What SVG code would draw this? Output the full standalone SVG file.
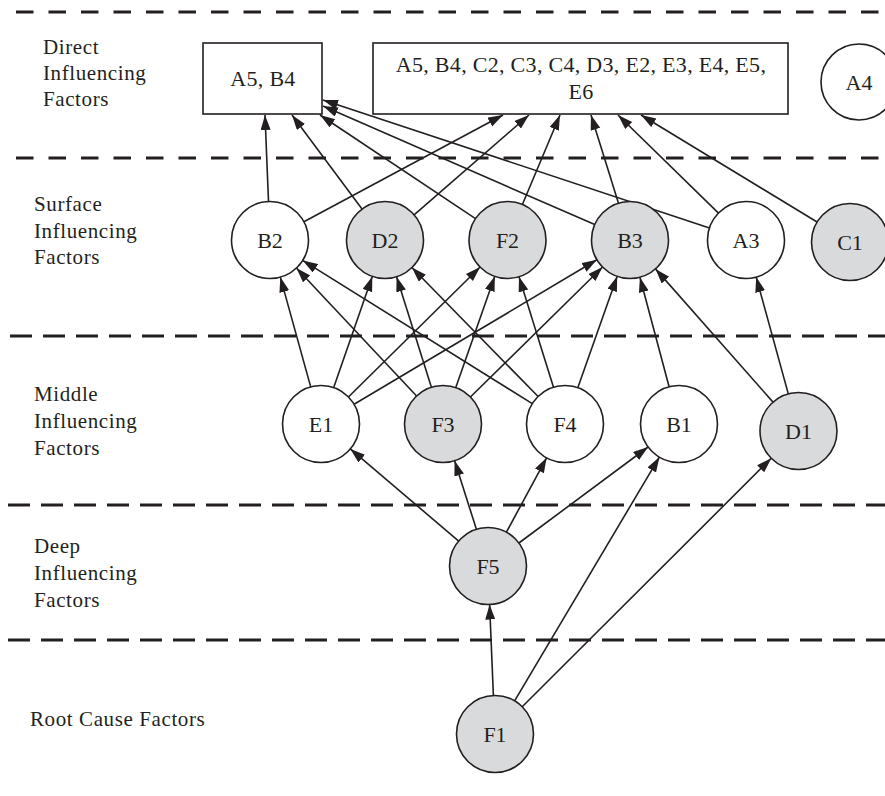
<svg xmlns="http://www.w3.org/2000/svg" width="885" height="796" viewBox="0 0 885 796">
<defs>
<marker id="ah" markerUnits="userSpaceOnUse" markerWidth="16" markerHeight="11" refX="15" refY="5" orient="auto">
<path d="M0,0 L15,5 L0,10 z" fill="#231f20"/>
</marker>
<style>
.sep{stroke:#231f20;stroke-width:3;fill:none}
.top{stroke-dasharray:17.5 15}
.low{stroke-dasharray:22 11}
.lbl{font-family:"Liberation Serif","Times New Roman",serif;font-size:21px;letter-spacing:0.6px;fill:#231f20}
.nt{font-family:"Liberation Serif","Times New Roman",serif;font-size:22px;fill:#231f20;text-anchor:middle}
.bt{font-family:"Liberation Serif","Times New Roman",serif;font-size:22px;letter-spacing:0.3px;fill:#231f20;text-anchor:middle}
.w{fill:#ffffff;stroke:#231f20;stroke-width:1.6}
.g{fill:#d9dadc;stroke:#231f20;stroke-width:1.6}
.e{stroke:#231f20;stroke-width:1.6;fill:none;marker-end:url(#ah)}
</style>
</defs>
<rect width="885" height="796" fill="#ffffff"/>
<g id="separators">
<line class="sep top" x1="16" y1="12" x2="885" y2="12"/>
<line class="sep top" x1="16" y1="158" x2="885" y2="158"/>
<line class="sep low" x1="10" y1="336" x2="885" y2="336"/>
<line class="sep low" x1="8" y1="505" x2="885" y2="505"/>
<line class="sep low" x1="8" y1="640" x2="885" y2="640"/>
</g>
<g id="layer-labels">
<text class="lbl" x="43" y="54">Direct</text>
<text class="lbl" x="43" y="80">Influencing</text>
<text class="lbl" x="43" y="106">Factors</text>
<text class="lbl" x="34" y="211">Surface</text>
<text class="lbl" x="34" y="238">Influencing</text>
<text class="lbl" x="34" y="264">Factors</text>
<text class="lbl" x="34" y="401">Middle</text>
<text class="lbl" x="34" y="428">Influencing</text>
<text class="lbl" x="34" y="455">Factors</text>
<text class="lbl" x="34" y="553">Deep</text>
<text class="lbl" x="34" y="580">Influencing</text>
<text class="lbl" x="34" y="607">Factors</text>
<text class="lbl" x="30" y="726">Root Cause Factors</text>
</g>
<g id="connectors">
<line class="e" x1="268.5" y1="201.5" x2="265" y2="115"/>
<line class="e" x1="362" y1="209.1" x2="292" y2="115"/>
<line class="e" x1="475.5" y1="218.6" x2="320" y2="115"/>
<line class="e" x1="594.7" y1="224.6" x2="323" y2="106"/>
<line class="e" x1="709.5" y1="227.9" x2="323" y2="100"/>
<line class="e" x1="303.9" y1="221.8" x2="503" y2="115"/>
<line class="e" x1="414.1" y1="214.8" x2="529" y2="115"/>
<line class="e" x1="522.4" y1="204.5" x2="560" y2="115"/>
<line class="e" x1="618.5" y1="203.2" x2="591" y2="115"/>
<line class="e" x1="718.5" y1="213.1" x2="618" y2="115"/>
<line class="e" x1="817.1" y1="222" x2="641" y2="115"/>
<line class="e" x1="310.7" y1="386.9" x2="280.3" y2="277.1"/>
<line class="e" x1="333.7" y1="387.6" x2="372.3" y2="276.4"/>
<line class="e" x1="348.4" y1="397" x2="480.1" y2="267"/>
<line class="e" x1="354.1" y1="404.3" x2="596.9" y2="259.7"/>
<line class="e" x1="416.6" y1="396" x2="296.4" y2="268"/>
<line class="e" x1="431.4" y1="387.3" x2="396.6" y2="276.7"/>
<line class="e" x1="455.7" y1="387.7" x2="494.8" y2="276.3"/>
<line class="e" x1="470.4" y1="397" x2="602.6" y2="267"/>
<line class="e" x1="532.3" y1="403.6" x2="302.7" y2="260.4"/>
<line class="e" x1="538.1" y1="396.5" x2="411.9" y2="267.5"/>
<line class="e" x1="553.5" y1="387.3" x2="519" y2="276.7"/>
<line class="e" x1="577.8" y1="387.7" x2="617.2" y2="276.3"/>
<line class="e" x1="669.1" y1="386.8" x2="639.9" y2="277.2"/>
<line class="e" x1="773" y1="402.1" x2="655.5" y2="268.9"/>
<line class="e" x1="788.3" y1="393.9" x2="756.2" y2="277.1"/>
<line class="e" x1="458.7" y1="541.1" x2="350.3" y2="448.9"/>
<line class="e" x1="476.4" y1="529.3" x2="454.6" y2="460.7"/>
<line class="e" x1="506.4" y1="532.2" x2="546.6" y2="457.8"/>
<line class="e" x1="518.9" y1="543" x2="648.1" y2="447"/>
<line class="e" x1="493.4" y1="695.5" x2="489.6" y2="604.5"/>
<line class="e" x1="514.6" y1="700.9" x2="659.4" y2="457.1"/>
<line class="e" x1="522.2" y1="706.8" x2="771.3" y2="458.2"/>
</g>
<g id="box-A5B4">
<rect class="w" x="203" y="43" width="119" height="71"/>
<text class="bt" x="263" y="86">A5, B4</text>
</g>
<g id="box-direct">
<rect class="w" x="373" y="43" width="415" height="71"/>
<text class="bt" x="581" y="72">A5, B4, C2, C3, C4, D3, E2, E3, E4, E5,</text>
<text class="bt" x="581" y="99">E6</text>
</g>
<g id="A4"><circle class="w" cx="859" cy="82" r="38"/><text class="nt" x="859" y="90">A4</text></g>
<g id="B2"><circle class="w" cx="270" cy="240" r="38.5"/><text class="nt" x="270" y="248">B2</text></g>
<g id="D2"><circle class="g" cx="385" cy="240" r="38.5"/><text class="nt" x="385" y="248">D2</text></g>
<g id="F2"><circle class="g" cx="507.5" cy="240" r="38.5"/><text class="nt" x="507.5" y="248">F2</text></g>
<g id="B3"><circle class="g" cx="630" cy="240" r="38.5"/><text class="nt" x="630" y="248">B3</text></g>
<g id="A3"><circle class="w" cx="746" cy="240" r="38.5"/><text class="nt" x="746" y="248">A3</text></g>
<g id="C1"><circle class="g" cx="850" cy="242" r="38.5"/><text class="nt" x="850" y="250">C1</text></g>
<g id="E1"><circle class="w" cx="321" cy="424" r="38.5"/><text class="nt" x="321" y="432">E1</text></g>
<g id="F3"><circle class="g" cx="443" cy="424" r="38.5"/><text class="nt" x="443" y="432">F3</text></g>
<g id="F4"><circle class="w" cx="565" cy="424" r="38.5"/><text class="nt" x="565" y="432">F4</text></g>
<g id="B1"><circle class="w" cx="679" cy="424" r="38.5"/><text class="nt" x="679" y="432">B1</text></g>
<g id="D1"><circle class="g" cx="798.5" cy="431" r="38.5"/><text class="nt" x="798.5" y="439">D1</text></g>
<g id="F5"><circle class="g" cx="488" cy="566" r="38.5"/><text class="nt" x="488" y="574">F5</text></g>
<g id="F1"><circle class="g" cx="495" cy="734" r="38.5"/><text class="nt" x="495" y="742">F1</text></g>
</svg>
